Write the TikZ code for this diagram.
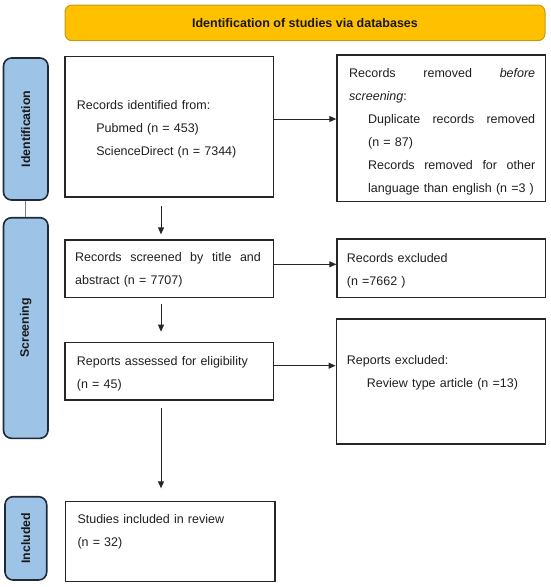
\documentclass[tikz,border=0pt]{standalone}
\usepackage{fontspec}
\setmainfont{Liberation Sans}
\usetikzlibrary{arrows.meta}
\definecolor{bannerfill}{HTML}{FFC000}
\definecolor{bannerdraw}{HTML}{C29A1C}
\definecolor{sidefill}{HTML}{9DC3E6}
\definecolor{sidedraw}{HTML}{1F2A36}
\newcommand{\bodyfont}{\fontsize{12.5}{23}\selectfont}
\begin{document}
\begin{tikzpicture}[x=1pt,y=-1pt,
  box/.style={draw=black!85, line width=1.4pt, rectangle, inner sep=0pt},
  txt/.style={inner sep=0pt, align=left, anchor=base west, font=\bodyfont, text=black!88},
  side/.style={draw=sidedraw, fill=sidefill, line width=1.6pt, rounded corners=8pt, inner sep=0pt, font=\fontsize{12.3}{14}\selectfont\bfseries, text=black!90},
  banner/.style={draw=bannerdraw, fill=bannerfill, line width=1pt, rounded corners=7pt, inner sep=0pt, font=\fontsize{12.5}{14}\selectfont\bfseries, text=black!90},
  arr/.style={-{Triangle[length=7pt,width=6pt]}, line width=0.9pt, black!85}
]
\useasboundingbox (0,0) rectangle (550,587);

\node[banner, minimum width=480pt, minimum height=35.7pt] (ban) at (305,22.85) {Identification of studies via databases};

\node[side, minimum width=44.5pt, minimum height=142pt] (s1) at (25.75,129) {\rotatebox{90}{Identification}};
\node[side, minimum width=44.5pt, minimum height=220.6pt] (s2) at (25.75,328) {\rotatebox{90}{Screening}};
\node[side, minimum width=41.7pt, minimum height=83.3pt] (s3) at (25.85,538.35) {\rotatebox{90}{Included}};
\draw[line width=1.2pt, gray] (s1.south) -- (s2.north);

% boxes
\node[box, minimum width=208.5pt, minimum height=140.3pt] (b1) at (169.25,126.9) {};
\node[box, minimum width=208.5pt, minimum height=146.7pt] (b2) at (441.25,128.4) {};
\node[box, minimum width=208.5pt, minimum height=57.3pt] (b3) at (169.25,268.7) {};
\node[box, minimum width=208.5pt, minimum height=58.3pt] (b4) at (441.25,268.2) {};
\node[box, minimum width=208.5pt, minimum height=57.7pt] (b5) at (169.25,371.2) {};
\node[box, minimum width=209pt, minimum height=125pt] (b6) at (440.75,381.5) {};
\node[box, minimum width=209.3pt, minimum height=80pt] (b7) at (170.35,541.7) {};

% texts
\node[txt, text width=186pt] (t1) at (76.7,109.4)
  {Records identified from:\\\hspace*{19.5pt}Pubmed (n = 453)\\\hspace*{19.5pt}ScienceDirect (n = 7344)};
\node[txt, text width=186pt] (t2) at (349,77)
  {\hbox to 186pt{Records\hfill removed\hfill \textit{before}}\\
   \textit{screening}:\\
   \hspace*{19pt}\hbox to 167pt{Duplicate\hfill records\hfill removed}\\
   \hspace*{19pt}(n = 87)\\
   \hspace*{19pt}\hbox to 167pt{Records\hfill removed\hfill for\hfill other}\\
   \hspace*{19pt}language than english (n =3 )};
\node[txt, text width=186pt] (t3) at (75,261.7)
  {\hbox to 185.7pt{Records\hfill screened\hfill by\hfill title\hfill and}\\abstract (n = 7707)};
\node[txt, text width=186pt] (t4) at (346.7,262)
  {Records excluded\\(n =7662 )};
\node[txt, text width=186pt] (t5) at (76.7,365)
  {Reports assessed for eligibility\\(n = 45)};
\node[txt, text width=186pt] (t6) at (346.7,364.5)
  {Reports excluded:\\\hspace*{20pt}Review type article (n =13)};
\node[txt, text width=186pt] (t7) at (77.3,523.7)
  {Studies included in review\\(n = 32)};

% connectors
\draw[arr] ([yshift=7.9pt]b1.east) -- ([yshift=7.9pt]b1.east -| b2.west);
\draw[arr] ([yshift=4.4pt]b3.east) -- ([yshift=4.4pt]b3.east -| b4.west);
\draw[arr] ([yshift=5.5pt]b5.east) -- ([yshift=5.5pt]b5.east -| b6.west);
\draw[arr, shorten <=8pt, shorten >=5pt] ([xshift=-8.25pt]b1.south) -- ([xshift=-8.25pt]b1.south |- b3.north);
\draw[arr, shorten <=5.7pt, shorten >=10pt] ([xshift=-8.25pt]b3.south) -- ([xshift=-8.25pt]b3.south |- b5.north);
\draw[arr, shorten <=7pt, shorten >=12.7pt] ([xshift=-8.25pt]b5.south) -- ([xshift=-8.25pt]b5.south |- b7.north);
\end{tikzpicture}
\end{document}
